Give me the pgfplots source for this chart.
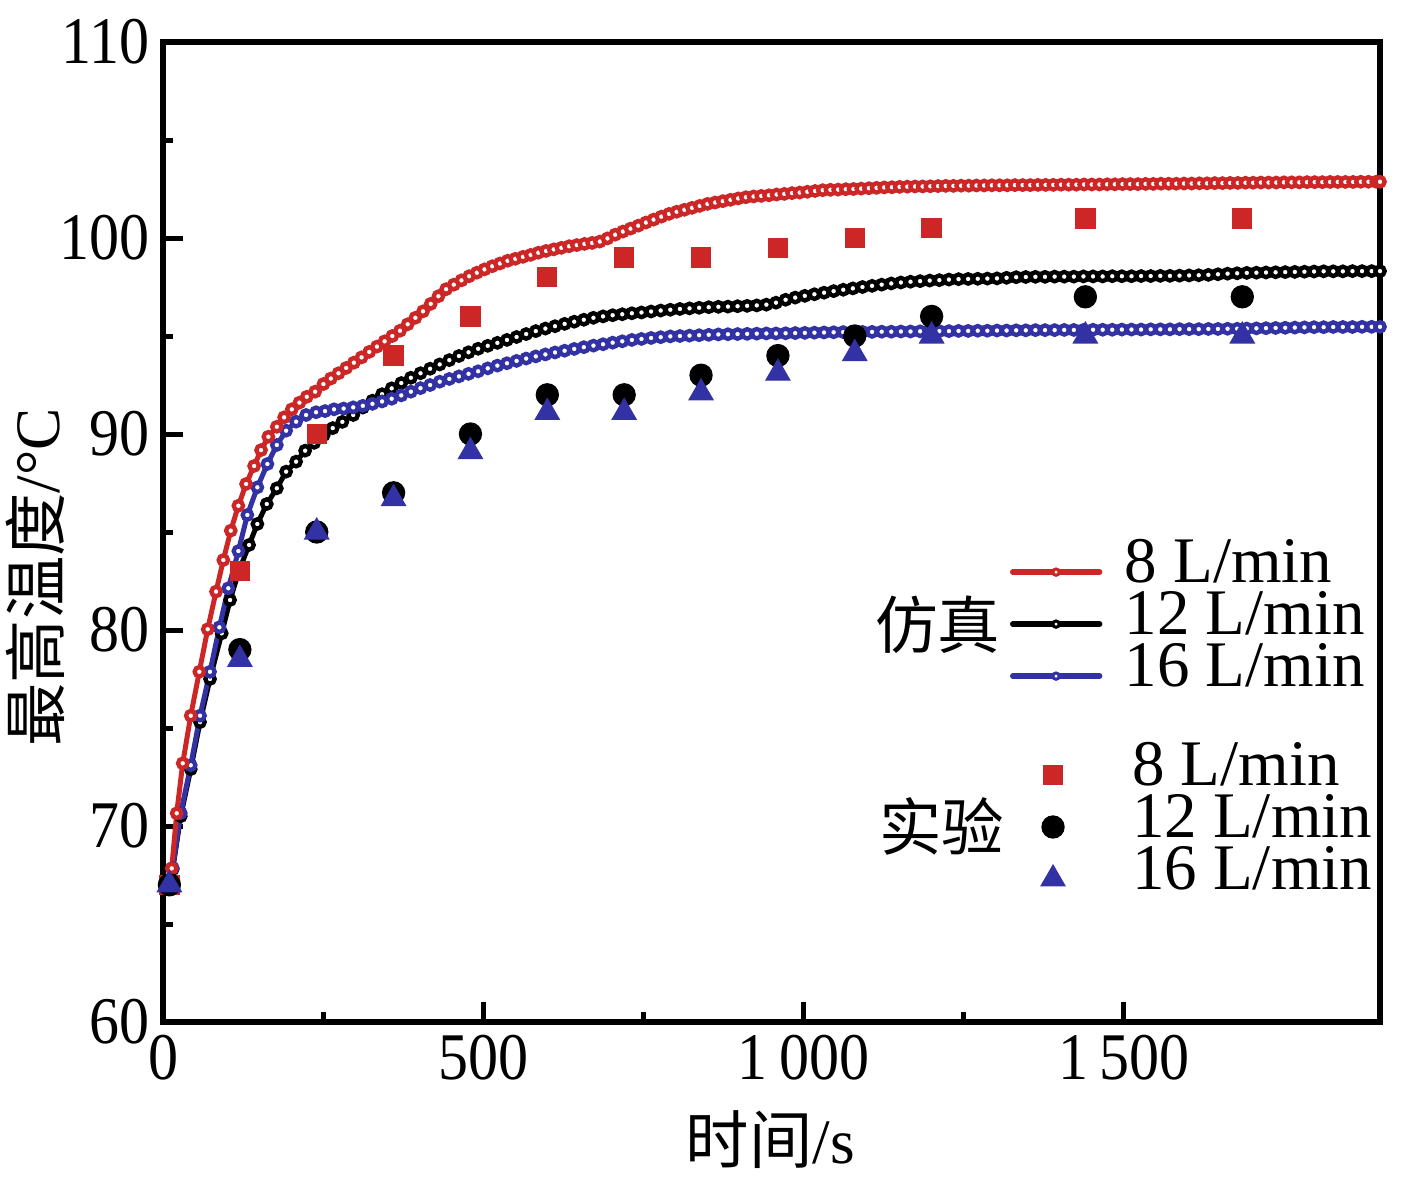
\documentclass[border=0pt]{standalone}
\usepackage{fontspec}
\setmainfont{Liberation Serif}
\newfontfamily\tickfont{Liberation Serif}[FakeStretch=0.9]
\newfontfamily\cjk{Noto Sans CJK SC}
\usepackage{pgfplots}
\usepackage{pgfplotstable}
\pgfplotsset{compat=1.18}
\definecolor{cred}{RGB}{205,38,38}
\definecolor{cblue}{RGB}{50,50,165}

\pgfplotstableread{
t T
6 67.10
13.6 67.84
21.4 70.65
30.8 73.20
43.3 75.63
56.7 77.87
69.8 80.04
82.8 81.96
94.2 83.57
105.8 85.07
117.7 86.34
129.7 87.45
142.2 88.37
153.1 89.18
164.5 89.86
177.7 90.37
189.1 90.85
201.1 91.26
213.0 91.60
224.5 91.90
237.5 92.16
250.5 92.55
262 92.83
274 93.10
286 93.37
298 93.64
310 93.91
322 94.19
334 94.46
346 94.73
358 95.00
370 95.27
382 95.60
394 95.93
406 96.26
418 96.64
430 97.03
442 97.39
454 97.62
466 97.84
478 98.05
490 98.23
502 98.40
514 98.56
526 98.70
538 98.84
550 98.94
562 99.04
574 99.14
586 99.25
598 99.34
610 99.42
622 99.50
634 99.58
646 99.64
658 99.70
670 99.75
682 99.82
694 99.98
706 100.17
718 100.33
730 100.48
742 100.63
754 100.79
766 100.94
778 101.09
790 101.23
802 101.34
814 101.44
826 101.54
838 101.64
850 101.74
862 101.81
874 101.88
886 101.95
898 102.02
910 102.08
922 102.12
934 102.15
946 102.18
958 102.22
970 102.25
982 102.29
994 102.32
1006 102.36
1018 102.40
1030 102.44
1042 102.46
1054 102.47
1066 102.49
1078 102.50
1090 102.52
1102 102.54
1114 102.56
1126 102.58
1138 102.59
1150 102.61
1162 102.62
1174 102.63
1186 102.63
1198 102.64
1210 102.65
1222 102.66
1234 102.66
1246 102.67
1258 102.67
1270 102.68
1282 102.68
1294 102.69
1306 102.69
1318 102.69
1330 102.70
1342 102.70
1354 102.70
1366 102.71
1378 102.71
1390 102.71
1402 102.72
1414 102.72
1426 102.72
1438 102.73
1450 102.73
1462 102.73
1474 102.74
1486 102.74
1498 102.75
1510 102.75
1522 102.75
1534 102.76
1546 102.76
1558 102.77
1570 102.77
1582 102.77
1594 102.78
1606 102.78
1618 102.79
1630 102.79
1642 102.80
1654 102.80
1666 102.81
1678 102.81
1690 102.82
1702 102.82
1714 102.83
1726 102.83
1738 102.83
1750 102.84
1762 102.84
1774 102.84
1786 102.85
1798 102.85
1810 102.85
1822 102.86
1834 102.86
1846 102.86
1858 102.86
1870 102.87
1882 102.87
1894 102.87
1900 102.87
}\redsim

\pgfplotstableread{
t T
6 67.10
15.2 67.80
27.7 70.50
43.3 72.90
57.8 75.30
73.4 77.50
91.7 79.83
104.7 81.53
119.5 83.10
134.4 84.34
147.3 85.41
162.0 86.43
177.7 87.23
192.2 88.08
207.8 88.59
221.9 89.15
236 89.55
251 89.95
265 90.30
280 90.62
297 90.97
312 91.35
327 91.70
342 92.03
357 92.33
372 92.60
387 92.87
402 93.10
417 93.33
432 93.55
447 93.77
462 93.98
477 94.17
492 94.35
507 94.50
522 94.65
537 94.80
552 94.95
567 95.10
582 95.25
597 95.38
612 95.50
627 95.62
642 95.73
657 95.83
672 95.93
687 96.00
702 96.06
717 96.11
732 96.16
747 96.20
762 96.25
777 96.30
792 96.34
807 96.38
822 96.41
837 96.44
852 96.47
867 96.49
882 96.50
897 96.52
912 96.54
927 96.56
942 96.60
957 96.70
972 96.85
987 96.96
1002 97.05
1017 97.13
1032 97.21
1047 97.29
1062 97.36
1077 97.43
1092 97.50
1107 97.56
1122 97.62
1137 97.68
1152 97.73
1167 97.77
1182 97.80
1197 97.83
1212 97.85
1227 97.88
1242 97.90
1257 97.91
1272 97.92
1287 97.93
1302 97.94
1317 97.97
1332 98.00
1347 98.01
1362 98.02
1377 98.02
1392 98.03
1407 98.03
1422 98.03
1437 98.04
1452 98.04
1467 98.04
1482 98.05
1497 98.05
1512 98.05
1527 98.06
1542 98.06
1557 98.07
1572 98.07
1587 98.08
1602 98.09
1617 98.10
1632 98.12
1647 98.15
1662 98.18
1677 98.20
1692 98.22
1707 98.23
1722 98.24
1737 98.25
1752 98.26
1767 98.27
1782 98.28
1797 98.29
1812 98.30
1827 98.30
1842 98.30
1857 98.31
1872 98.31
1887 98.31
1900 98.31
}\blacksim

\pgfplotstableread{
t T
6 67.10
15.2 67.86
27.7 70.66
43.3 73.10
57.8 75.63
73.4 77.87
88.0 80.14
102.0 82.13
117.7 84.03
131.7 85.87
147.3 87.28
163.0 88.47
177.7 89.44
192.2 90.17
207.8 90.63
223.4 90.97
239.0 91.11
253.0 91.17
267.0 91.26
282 91.30
297 91.36
312 91.44
327 91.54
342 91.66
357 91.80
372 91.97
387 92.16
402 92.34
417 92.50
432 92.67
447 92.81
462 92.94
477 93.07
492 93.20
507 93.35
522 93.49
537 93.61
552 93.73
567 93.85
582 93.96
597 94.06
612 94.16
627 94.25
642 94.34
657 94.43
672 94.51
687 94.58
702 94.66
717 94.73
732 94.80
747 94.85
762 94.90
777 94.94
792 94.98
807 95.00
822 95.02
837 95.04
852 95.06
867 95.08
882 95.09
897 95.10
912 95.11
927 95.12
942 95.13
957 95.13
972 95.14
987 95.15
1002 95.16
1017 95.17
1032 95.18
1047 95.19
1062 95.20
1077 95.20
1092 95.21
1107 95.21
1122 95.22
1137 95.22
1152 95.23
1167 95.23
1182 95.24
1197 95.24
1212 95.25
1227 95.25
1242 95.26
1257 95.26
1272 95.27
1287 95.27
1302 95.28
1317 95.28
1332 95.29
1347 95.29
1362 95.30
1377 95.30
1392 95.30
1407 95.31
1422 95.31
1437 95.31
1452 95.32
1467 95.32
1482 95.32
1497 95.33
1512 95.33
1527 95.33
1542 95.34
1557 95.34
1572 95.34
1587 95.35
1602 95.35
1617 95.35
1632 95.36
1647 95.36
1662 95.37
1677 95.37
1692 95.38
1707 95.39
1722 95.40
1737 95.41
1752 95.42
1767 95.43
1782 95.44
1797 95.45
1812 95.45
1827 95.46
1842 95.46
1857 95.46
1872 95.47
1887 95.47
1900 95.47
}\bluesim

\pgfplotstableread{
t T
10 67
120 83
240 90
360 94
480 96
600 98
720 99
840 99
960 99.5
1080 100
1200 100.5
1440 101
1685 101
}\redexp

\pgfplotstableread{
t T
10 67
120 79
240 85
360 87
480 90
600 92
720 92
840 93
960 94
1080 95
1200 96
1440 97
1685 97
}\blackexp

\pgfplotstableread{
t T
10 67
120 78.5
240 85
360 86.7
480 89.1
600 91.1
720 91.1
840 92.1
960 93.1
1080 94.1
1200 95
1440 95
1685 95
}\blueexp

\pgfplotsset{
  base/.style={
    scale only axis, width=365.1pt, height=294pt,
    xmin=0, xmax=1900, ymin=60, ymax=110,
    clip=false,
  },
  simline/.style={line width=1.5pt, mark=*, mark size=1.4pt,
    mark options={solid, fill=white, line width=1.3pt}},
  simleg/.style={legend image code/.code={
    \path[draw=none, fill=none] (0pt,0pt) -- (33.6pt,0pt);
    \draw[mark repeat=2, mark phase=2, line cap=round, ##1, mark size=0.95pt,
      mark options={solid, fill=white, line width=0.9pt}]
      plot coordinates {(0pt,0pt) (13pt,0pt) (26.1pt,0pt)};}},
  expleg/.style={legend image code/.code={
    \path[draw=none, fill=none] (0pt,0pt) -- (36.6pt,0pt);
    \draw[mark repeat=2, mark phase=2, ##1, only marks]
      plot coordinates {(0pt,0pt) (12.9pt,0pt) (25.8pt,0pt)};}},
  legstyle/.style={legend style={draw=none, fill=none, inner sep=0pt, outer sep=0pt,
    row sep=0pt, column sep=0pt, font=\fontsize{19.5}{20}\selectfont,
    nodes={inner sep=0pt, text height=11pt, text depth=4.6pt},
    anchor=west}, legend cell align=left},
}

\begin{document}
\begin{tikzpicture}
\begin{axis}[base, legstyle,
  legend style={at={(axis description cs:0.696,0.406)}},
  axis line style={line width=1.8pt},
  tick style={line width=1.5pt, black},
  tick align=inside, xtick pos=bottom, ytick pos=left,
  major tick length=6pt, minor tick length=3pt,
  xtick={0,500,1000,1500}, ytick={60,70,80,90,100,110},
  minor x tick num=1, minor y tick num=1,
  scaled ticks=false,
  /pgf/number format/assume math mode=true,
  /pgf/number format/1000 sep={\,},
  ticklabel style={font=\tickfont\fontsize{20}{24}\selectfont},
  xticklabel style={yshift=-0.4pt},
  yticklabel style={xshift=-0.6pt},
  xlabel={{\cjk 时间}/s},
  ylabel={{\cjk 最高温度}/°C},
  xlabel style={at={(axis description cs:0.499,-0.12)}, anchor=center, font=\fontsize{19}{22}\selectfont},
  ylabel style={at={(axis description cs:-0.105,0.454)}, anchor=center, font=\fontsize{19}{22}\selectfont},
]
\addplot[black, simline, forget plot] table {\blacksim};
\addplot[cblue, simline, forget plot] table {\bluesim};
\addplot[cred, simline, forget plot] table {\redsim};
\addlegendimage{cred, line width=1.6pt, mark=*, simleg}
\addlegendentry{8 L/min}
\addlegendimage{black, line width=1.6pt, mark=*, simleg}
\addlegendentry{12 L/min}
\addlegendimage{cblue, line width=1.6pt, mark=*, simleg}
\addlegendentry{16 L/min}
\node[font=\cjk\fontsize{18.75}{20}\selectfont] at (axis description cs:0.6368,0.405) {仿真};
\node[font=\cjk\fontsize{18.75}{20}\selectfont] at (axis description cs:0.640,0.200) {实验};
\end{axis}
\begin{axis}[base, hide axis, legstyle,
  legend style={at={(axis description cs:0.696,0.199)}}]
\addplot[only marks, mark=square*, cred, mark size=2.85pt, expleg] table {\redexp};
\addlegendentry{8 L/min}
\addplot[only marks, mark=*, black, mark size=3.3pt, expleg] table {\blackexp};
\addlegendentry{12 L/min}
\addplot[only marks, mark=triangle*, cblue, mark size=4.1pt, expleg] table {\blueexp};
\addlegendentry{16 L/min}
\end{axis}
\pgfresetboundingbox
\path[use as bounding box] (-48.9pt,-47.7pt) rectangle (376.2pt,306.6pt);
\end{tikzpicture}
\end{document}
